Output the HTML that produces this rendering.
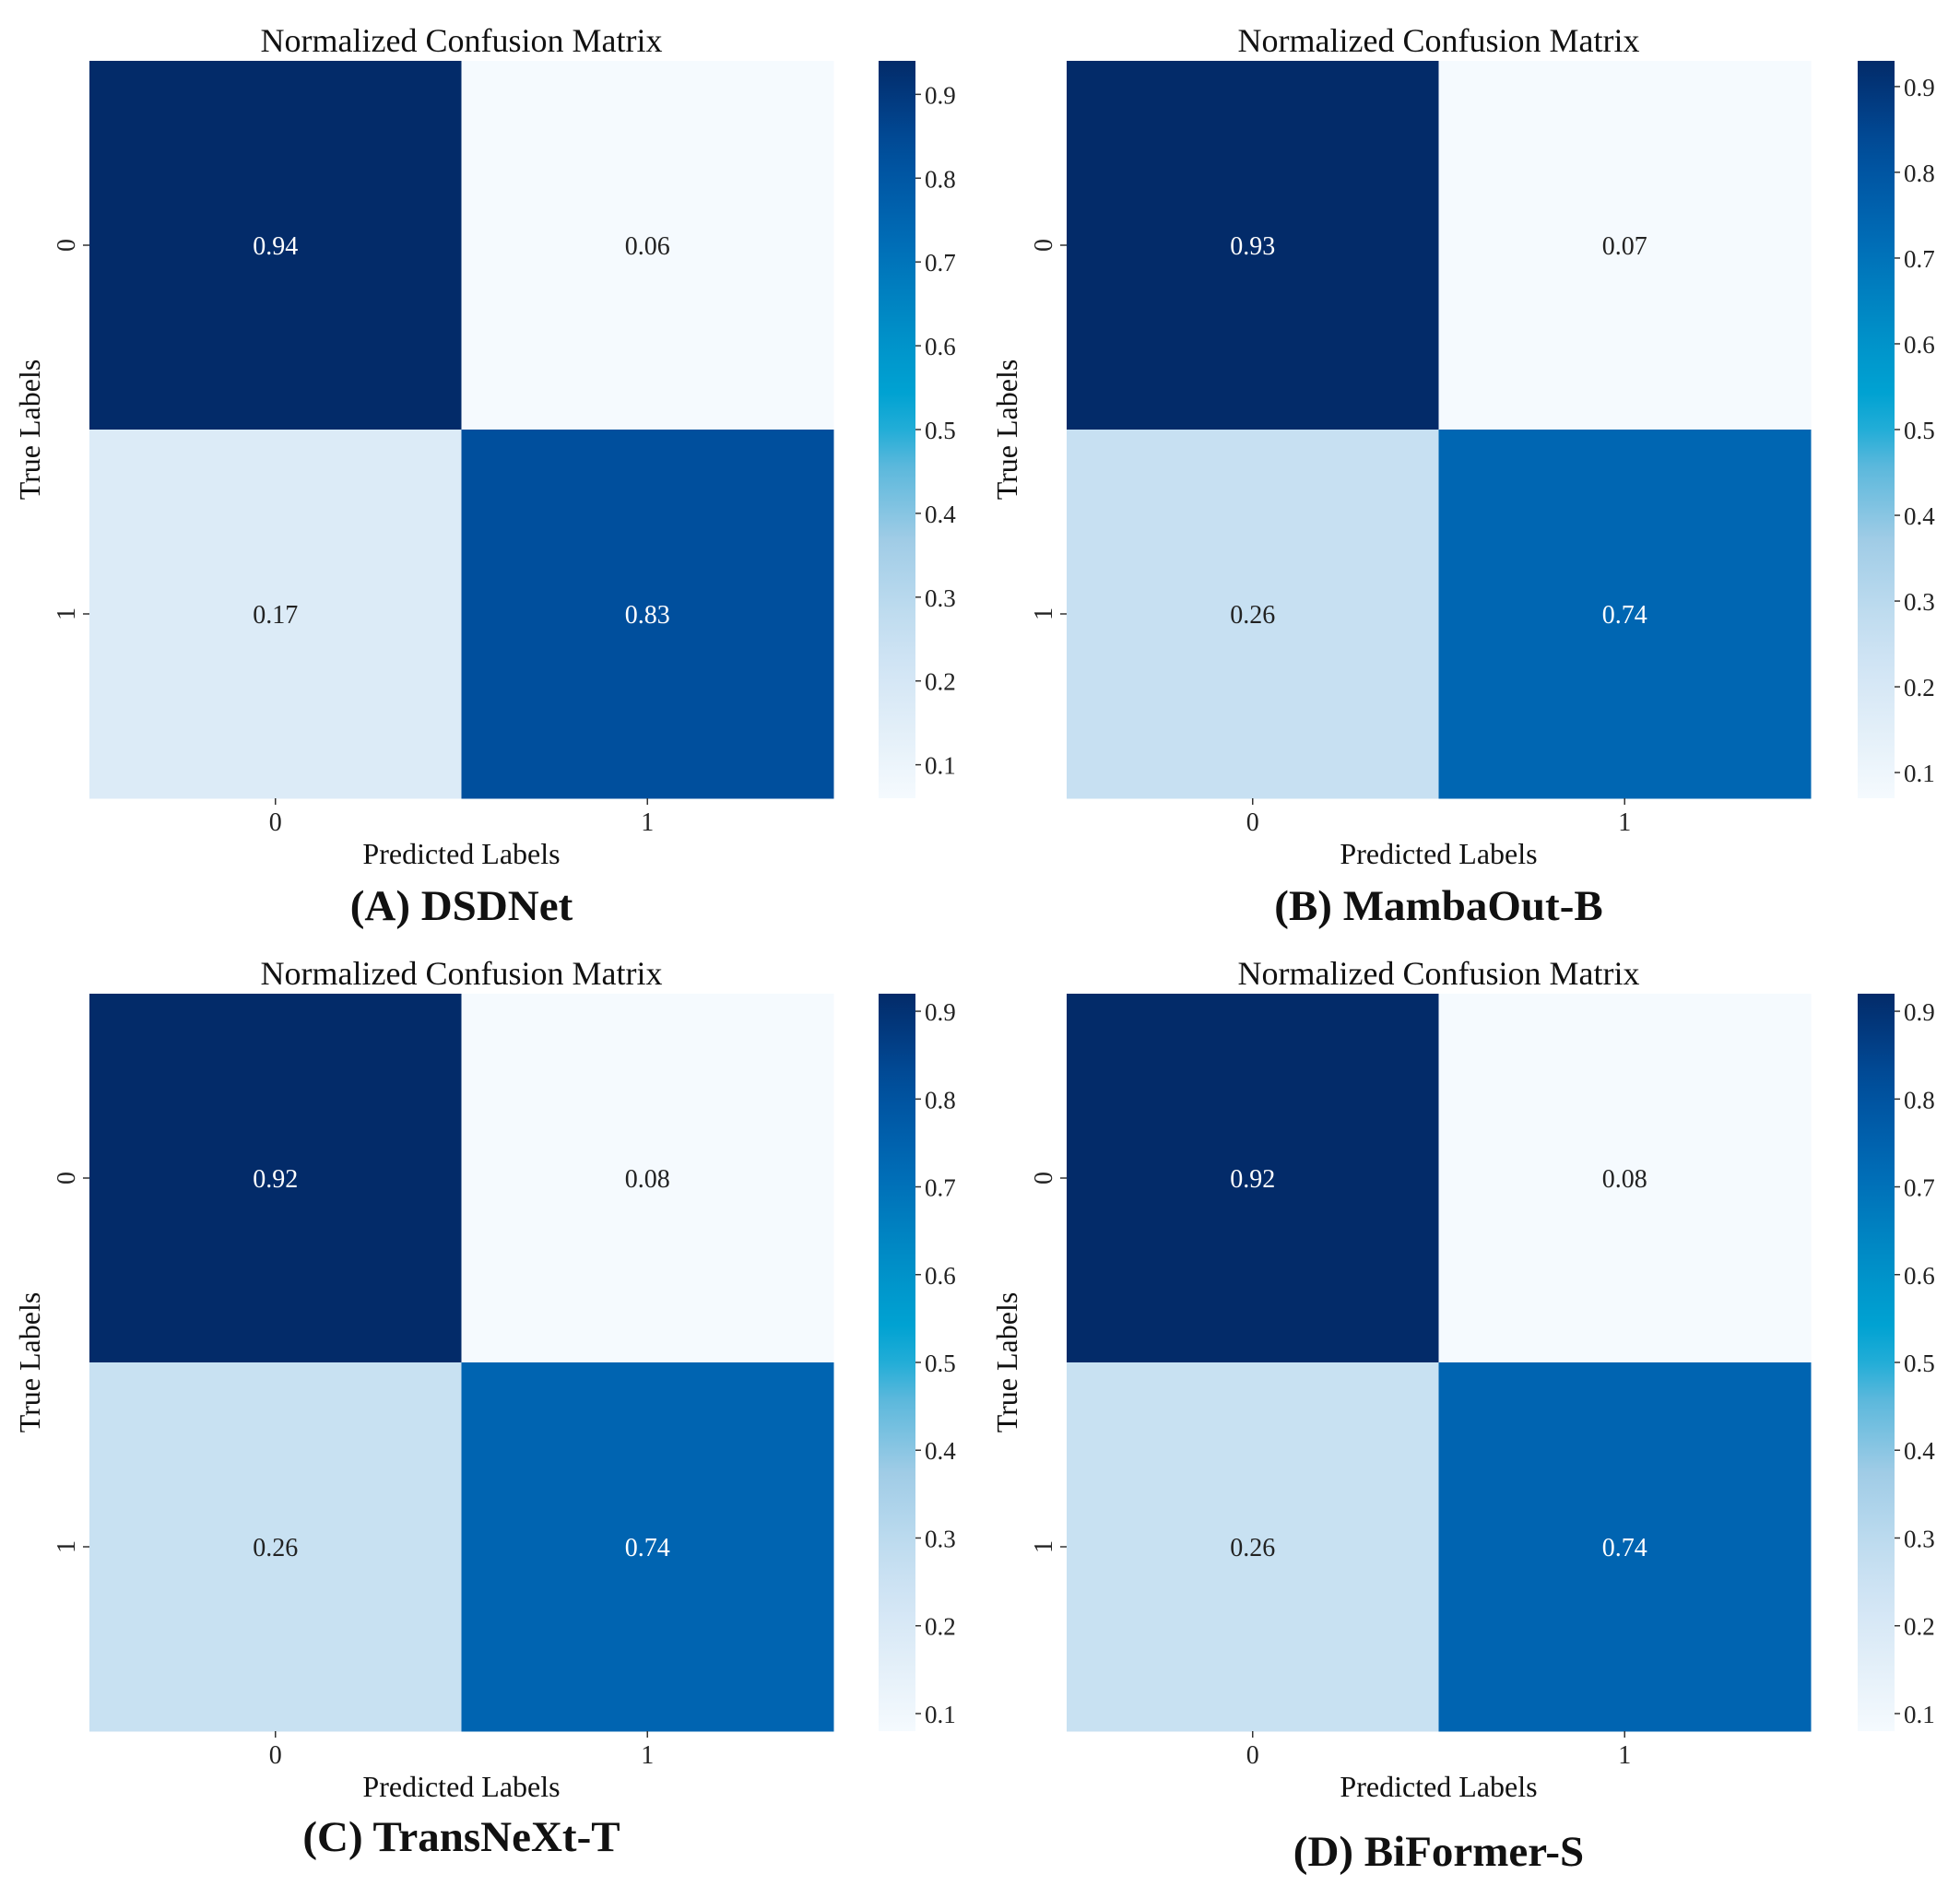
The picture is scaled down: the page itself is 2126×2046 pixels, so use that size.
<!DOCTYPE html>
<html><head><meta charset="utf-8"><style>
html,body{margin:0;padding:0;background:#fff;}
svg{display:block;font-family:"Liberation Serif","Times New Roman",serif;}
</style></head><body>
<svg id="chart" width="2126" height="2046" viewBox="0 0 2126 2046" xmlns="http://www.w3.org/2000/svg">
<defs id="defs"></defs>
</svg>
<script>
const panelNames = ["(A) DSDNet", "(B) MambaOut-B", "(C) TransNeXt-T", "(D) BiFormer-S"];
const valuesA = [[0.94, 0.06], [0.17, 0.83]];
const valuesB = [[0.93, 0.07], [0.26, 0.74]];
const valuesC = [[0.92, 0.08], [0.26, 0.74]];
const valuesD = [[0.92, 0.08], [0.26, 0.74]];
const classLabels = ["0", "1"];
const cbTicks = [0.1, 0.2, 0.3, 0.4, 0.5, 0.6, 0.7, 0.8, 0.9];

const NS = "http://www.w3.org/2000/svg";
const svg = document.getElementById('chart');
const defs = document.getElementById('defs');
const stops = [[0,"#f5fafe"],[0.125,"#dcebf7"],[0.23,"#c5dff1"],[0.35,"#a0cce6"],[0.45,"#5bb8dc"],[0.53,"#00a6d4"],[0.63,"#0090c8"],[0.77,"#0068b4"],[0.875,"#004f9d"],[1,"#032b69"]];
function hex(h){return [1,3,5].map(i=>parseInt(h.substr(i,2),16));}
function cmap(t){
  t=Math.max(0,Math.min(1,t));
  for(let i=1;i<stops.length;i++){
    if(t<=stops[i][0]){
      const a=stops[i-1],b=stops[i];const f=(t-a[0])/(b[0]-a[0]);
      const ca=hex(a[1]),cb=hex(b[1]);
      return "rgb("+ca.map((c,k)=>Math.round(c+(cb[k]-c)*f)).join(",")+")";
    }
  }
  return stops[stops.length-1][1];
}
function mk(tag,attrs,parent){const e=document.createElementNS(NS,tag);for(const k in attrs)e.setAttribute(k,attrs[k]);(parent||svg).appendChild(e);return e;}
function txt(s,attrs,parent){const e=mk('text',attrs,parent);e.textContent=s;return e;}

const grid = [
  {vals:valuesA, x:97, y:66, cbx:953, capY:998},
  {vals:valuesB, x:1157, y:66, cbx:2015, capY:998},
  {vals:valuesC, x:97, y:1078, cbx:953, capY:2008},
  {vals:valuesD, x:1157, y:1078, cbx:2015, capY:2024}
];
const W=807,H=800,CBW=40;
grid.forEach((p,pi)=>{
  const g=mk('g',{});
  
  
  const flat=p.vals.flat();const vmin=Math.min(...flat),vmax=Math.max(...flat);
  const n=classLabels.length,cw=W/n,ch=H/n;
  const xS=j=>p.x+j*cw, yS=i=>p.y+i*ch;
  const t1=txt("Normalized Confusion Matrix",{x:p.x+W/2,y:p.y-10,'text-anchor':'middle','font-size':36,fill:'#111'},g);
  
  
  p.vals.forEach((row,i)=>row.forEach((v,j)=>{
    const t=(v-vmin)/(vmax-vmin);
    const r=mk('rect',{x:xS(j),y:yS(i),width:cw+0.5,height:ch+0.5,fill:cmap(t)},g);
    
    
    const lt=txt(v.toFixed(2),{x:xS(j)+cw/2,y:yS(i)+ch/2+10,'text-anchor':'middle','font-size':28,fill:t>0.5?'#fff':'#222'},g);
    
    
  }));
  classLabels.forEach((c,k)=>{
    const cx=xS(k)+cw/2;
    mk('line',{x1:cx,x2:cx,y1:p.y+H,y2:p.y+H+7,stroke:'#333','stroke-width':1.5},g);
    const xl=txt(c,{x:cx,y:p.y+H+35,'text-anchor':'middle','font-size':28,fill:'#222'},g);
    
    
    const cy=yS(k)+ch/2;
    mk('line',{x1:p.x-7,x2:p.x,y1:cy,y2:cy,stroke:'#333','stroke-width':1.5},g);
    const yl=txt(c,{x:0,y:0,'text-anchor':'middle','font-size':28,fill:'#222',transform:'translate('+(p.x-16)+','+cy+') rotate(-90)'},g);
    
    
  });
  const xt=txt("Predicted Labels",{x:p.x+W/2,y:p.y+H+71,'text-anchor':'middle','font-size':32,fill:'#111'},g);
  
  
  const yt=txt("True Labels",{x:0,y:0,'text-anchor':'middle','font-size':32,fill:'#111',transform:'translate('+(p.x-54)+','+(p.y+H/2)+') rotate(-90)'},g);
  
  
  const gid='grad'+pi;
  const lg=mk('linearGradient',{id:gid,x1:0,y1:1,x2:0,y2:0},defs);
  for(let k=0;k<=20;k++){mk('stop',{offset:k/20,'stop-color':cmap(k/20)},lg);}
  const cb=mk('rect',{x:p.cbx,y:p.y,width:CBW,height:H,fill:'url(#'+gid+')'},g);
  
  
  const cbS=v=>p.y+H-(v-vmin)/(vmax-vmin)*H;
  cbTicks.forEach(v=>{
    if(v<vmin||v>vmax)return;
    const yy=cbS(v);
    mk('line',{x1:p.cbx+CBW,x2:p.cbx+CBW+6,y1:yy,y2:yy,stroke:'#333','stroke-width':1.5},g);
    const ct=txt(v.toFixed(1),{x:p.cbx+CBW+10,y:yy+10,'font-size':27,fill:'#222'},g);
    
    
  });
  const cap=txt(panelNames[pi],{x:p.x+W/2,y:p.capY,'text-anchor':'middle','font-size':47,'font-weight':'bold',fill:'#111'},g);
  
  
});
</script>
</body></html>
